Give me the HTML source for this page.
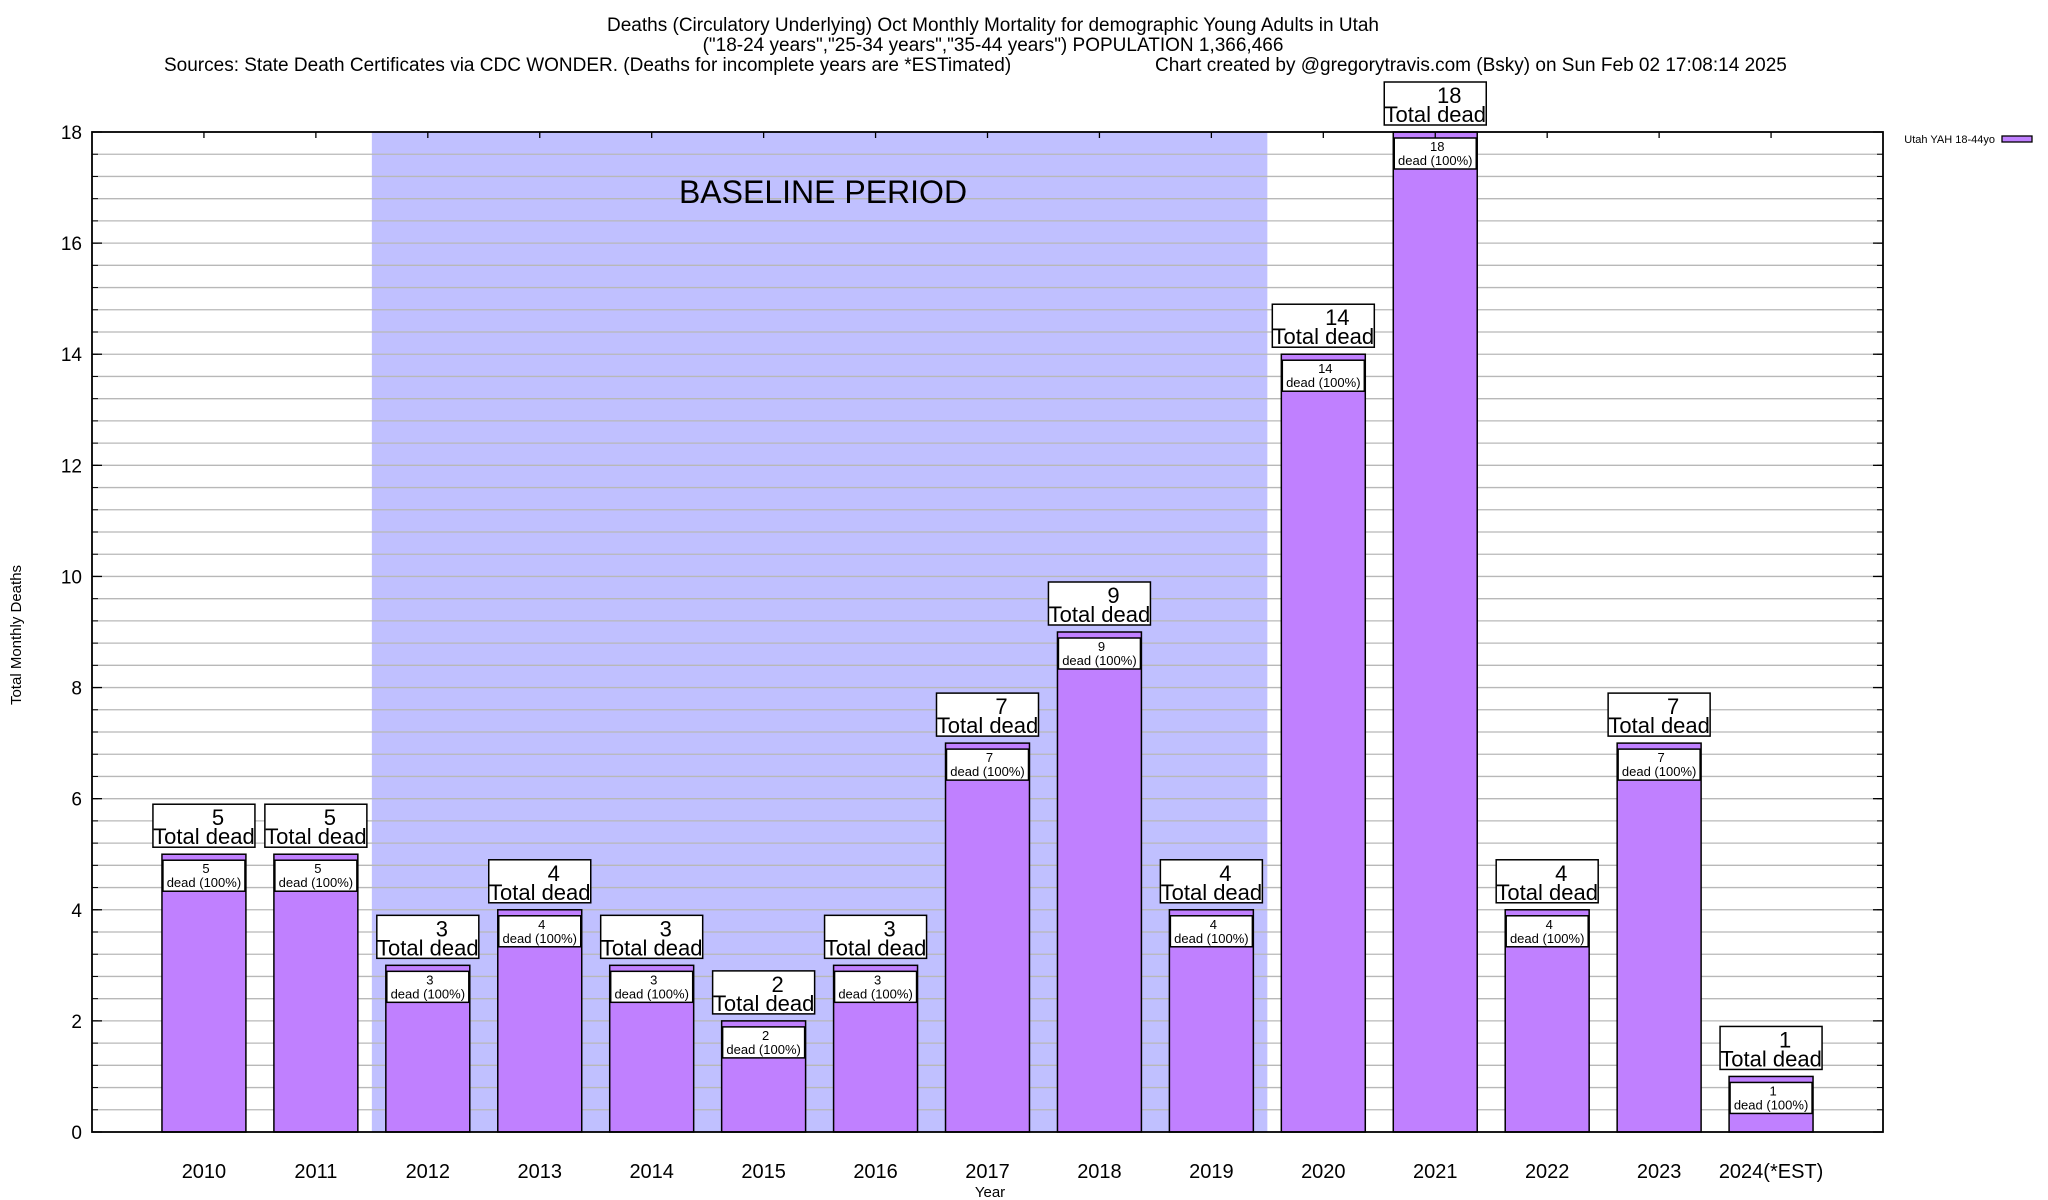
<!DOCTYPE html>
<html><head><meta charset="utf-8"><style>
html,body{margin:0;padding:0;background:#fff;}
svg{display:block;font-family:"Liberation Sans",Arial,sans-serif;}
</style></head><body>
<svg id="chart" width="2048" height="1200" viewBox="0 0 2048 1200" xmlns="http://www.w3.org/2000/svg">
<g font-size="19" fill="#000">
<text x="993" y="31" text-anchor="middle">Deaths (Circulatory Underlying) Oct Monthly Mortality for demographic Young Adults in Utah</text>
<text x="993" y="51" text-anchor="middle">("18-24 years","25-34 years","35-44 years") POPULATION 1,366,466</text>
<text x="164" y="71">Sources: State Death Certificates via CDC WONDER. (Deaths for incomplete years are *ESTimated)</text>
<text x="1155" y="71">Chart created by @gregorytravis.com (Bsky) on Sun Feb 02 17:08:14 2025</text>
</g>
<g id="plot"></g>
</svg>
<script>
const categories = ["2010","2011","2012","2013","2014","2015","2016","2017","2018","2019","2020","2021","2022","2023","2024(*EST)"];
const deaths = [5,5,3,4,3,2,3,7,9,4,14,18,4,7,1];
const yTicks = [0,2,4,6,8,10,12,14,16,18];
const baselineStart = 2; // index of 2012
const baselineEnd = 9;   // index of 2019

const L=92,R=1883,T=132,B=1132, yMax=18;
const unit=(R-L)/16;
const xS=i=>L+(i+1)*unit;
const yS=v=>B-(v/yMax)*(B-T);
const NS="http://www.w3.org/2000/svg";
const plot=document.getElementById('plot');
function mk(tag,attrs,parent){const e=document.createElementNS(NS,tag);for(const k in attrs)e.setAttribute(k,attrs[k]);(parent||plot).appendChild(e);return e;}

// baseline shading
const sh=mk('rect',{x:xS(baselineStart-0.5),y:T,width:xS(baselineEnd+0.5)-xS(baselineStart-0.5),height:B-T,fill:'#c0c0ff'});



// grid every 0.4
for(let k=1;k<45;k++){const v=k*0.4;const y=yS(v);
 const g=mk('line',{x1:L,x2:R,y1:y,y2:y,stroke:'#b8b8b8','stroke-width':1.3});
 
 
 mk('line',{x1:L,x2:L+6,y1:y,y2:y,stroke:'#000','stroke-width':1});
 mk('line',{x1:R-6,x2:R,y1:y,y2:y,stroke:'#000','stroke-width':1});
}
yTicks.forEach(v=>{const y=yS(v);
 mk('line',{x1:L,x2:L+10,y1:y,y2:y,stroke:'#000','stroke-width':1.3});
 mk('line',{x1:R-10,x2:R,y1:y,y2:y,stroke:'#000','stroke-width':1.3});
 const t=mk('text',{x:L-10,y:y+7,'text-anchor':'end','font-size':19});t.textContent=v;
 
 
});

const bt=mk('text',{x:823,y:203,'text-anchor':'middle','font-size':32});
bt.textContent='BASELINE PERIOD';



const bw=0.75*unit;
categories.forEach((c,i)=>{
 const cx=xS(i),v=deaths[i],yt=yS(v);
 const bar=mk('rect',{x:cx-bw/2,y:yt,width:bw,height:B-yt,fill:'#c080ff',stroke:'#000','stroke-width':1.5});
 
 
 // inner label
 const ib=mk('rect',{x:cx-41,y:yt+6,width:82,height:31,fill:'#fff',stroke:'#000','stroke-width':1.5});
 
 
 let t=mk('text',{x:cx+2,y:yt+19,'text-anchor':'middle','font-size':13});t.textContent=v;
 t=mk('text',{x:cx,y:yt+33,'text-anchor':'middle','font-size':13});t.textContent='dead (100%)';
 // top label
 const ob=mk('rect',{x:cx-51,y:yt-50,width:102,height:43,fill:'#fff',stroke:'#000','stroke-width':1.5});
 
 
 t=mk('text',{x:cx+14,y:yt-29,'text-anchor':'middle','font-size':22});t.textContent=v;
 t=mk('text',{x:cx,y:yt-10,'text-anchor':'middle','font-size':22});t.textContent='Total dead';
 // x tick + label
 mk('line',{x1:cx,x2:cx,y1:T,y2:T+6,stroke:'#000','stroke-width':1.3});
 const xl=mk('text',{x:cx,y:1178,'text-anchor':'middle','font-size':20});xl.textContent=c;
 
 
});

const frame=mk('rect',{x:L,y:T,width:R-L,height:B-T,fill:'none',stroke:'#000','stroke-width':1.8});



const yl=mk('text',{x:0,y:0,'text-anchor':'middle','font-size':15,transform:'translate(21,635) rotate(-90)'});
yl.textContent='Total Monthly Deaths';


const xlab=mk('text',{x:990,y:1197,'text-anchor':'middle','font-size':15});
xlab.textContent='Year';



const lg=mk('text',{x:1995,y:143,'text-anchor':'end','font-size':11});
lg.textContent='Utah YAH 18-44yo';


const ls=mk('rect',{x:2002,y:136,width:30,height:6,fill:'#c080ff',stroke:'#000','stroke-width':1.3});


</script>
</body></html>
